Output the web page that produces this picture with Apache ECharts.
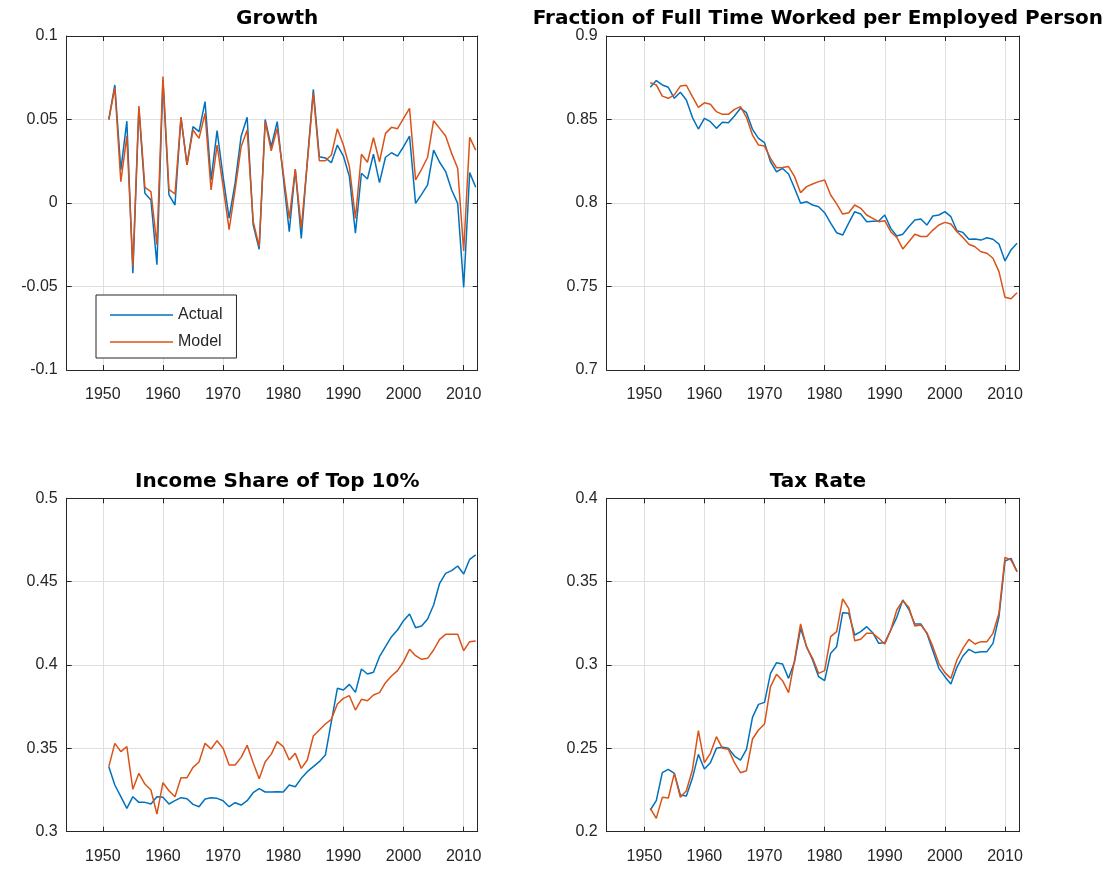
<!DOCTYPE html>
<html><head><meta charset="utf-8">
<script src="https://cdn.jsdelivr.net/npm/echarts@6/dist/echarts.min.js"></script>
<style>html,body{margin:0;padding:0;background:#fff}#c{width:1119px;height:871px}</style>
</head><body><div id="c"></div>
<script>
const years = [1951,1952,1953,1954,1955,1956,1957,1958,1959,1960,1961,1962,1963,1964,1965,1966,1967,1968,1969,1970,
1971,1972,1973,1974,1975,1976,1977,1978,1979,1980,1981,1982,1983,1984,1985,1986,1987,1988,1989,1990,
1991,1992,1993,1994,1995,1996,1997,1998,1999,2000,2001,2002,2003,2004,2005,2006,2007,2008,2009,2010,2011,2012];
const xTickValues = [1950,1960,1970,1980,1990,2000,2010];
const seriesNames = ['Actual','Model'];
const panelTitles = ['Growth','Fraction of Full Time Worked per Employed Person','Income Share of Top 10%','Tax Rate'];

const growthActual = [0.050,0.0707,0.0198,0.049,-0.042,0.057,0.0058,0.0018,-0.037,0.0737,0.0048,-0.0012,0.0513,0.0228,0.0457,0.0427,0.0607,0.0138,0.0433,0.0158,
-0.009,0.012,0.040,0.0513,-0.013,-0.0277,0.050,0.0337,0.0487,0.0158,-0.0172,0.0202,-0.0212,0.025,0.068,0.0277,0.027,0.0241,0.0347,0.0281,
0.0158,-0.018,0.0178,0.0144,0.0292,0.0122,0.0274,0.0301,0.0281,0.0337,0.0401,-0.0002,0.0052,0.0108,0.0317,0.0244,0.0188,0.0078,-0.0002,-0.0505,0.0182,0.0094];
const growthModel = [0.050,0.069,0.0128,0.040,-0.038,0.058,0.0094,0.0068,-0.025,0.0757,0.0082,0.0054,0.0513,0.0228,0.0437,0.0387,0.0537,0.0078,0.0347,0.010,
-0.016,0.008,0.0337,0.0437,-0.011,-0.026,0.0487,0.0313,0.0447,0.018,-0.0092,0.0202,-0.015,0.024,0.0657,0.0253,0.0253,0.0287,0.0445,0.0347,
0.0217,-0.0092,0.0292,0.0244,0.0391,0.0247,0.0417,0.0453,0.0445,0.0507,0.0567,0.0138,0.0202,0.0274,0.0493,0.0447,0.0401,0.0297,0.0208,-0.0287,0.0393,0.0317];

const fracActual = [0.8693,0.8733,0.8707,0.8693,0.8627,0.8663,0.8617,0.8513,0.8443,0.8507,0.8487,0.8447,0.8483,0.848,0.8521,0.8567,0.8541,0.8441,0.8387,0.8361,
0.8247,0.8187,0.8207,0.8174,0.8088,0.7998,0.8008,0.7988,0.7978,0.7942,0.7879,0.7822,0.7808,0.7879,0.7948,0.7934,0.7888,0.789,0.7892,0.7928,
0.7848,0.7802,0.7813,0.7858,0.7898,0.7904,0.7868,0.7922,0.7928,0.7948,0.7918,0.7834,0.7824,0.7783,0.7785,0.7778,0.7792,0.7783,0.7754,0.7653,0.7719,0.7759];
const fracModel = [0.872,0.8707,0.864,0.8627,0.8647,0.870,0.8705,0.8637,0.8573,0.860,0.8591,0.8547,0.8531,0.8531,0.8561,0.8577,0.8513,0.8407,0.8347,0.8341,
0.8267,0.8211,0.8213,0.8218,0.8158,0.8062,0.8098,0.8114,0.8128,0.8138,0.8048,0.7995,0.7934,0.7942,0.7988,0.7968,0.7928,0.7908,0.7888,0.7894,
0.7828,0.7794,0.7725,0.7768,0.7813,0.7799,0.7799,0.7838,0.7868,0.7884,0.7874,0.7828,0.7794,0.7753,0.7738,0.7708,0.7699,0.7669,0.7589,0.7435,0.7427,0.7463];

const incomeActual = [0.339,0.328,0.321,0.314,0.321,0.3176,0.3176,0.3166,0.321,0.3206,0.3166,0.3186,0.3204,0.3198,0.3164,0.315,0.3196,0.3204,0.32,0.3186,
0.315,0.3174,0.316,0.3186,0.3234,0.3258,0.3238,0.3238,0.324,0.3238,0.328,0.327,0.332,0.336,0.339,0.342,0.346,0.366,0.386,0.385,
0.3884,0.3836,0.3976,0.3946,0.3956,0.405,0.411,0.417,0.421,0.4266,0.4306,0.4224,0.4234,0.4276,0.436,0.449,0.455,0.4566,0.4594,0.4546,0.4634,0.466];
const incomeModel = [0.339,0.353,0.348,0.351,0.3254,0.335,0.3286,0.325,0.3106,0.3294,0.3246,0.321,0.3324,0.3324,0.3386,0.3418,0.353,0.3496,0.3546,0.35,
0.34,0.34,0.3446,0.3518,0.3414,0.3318,0.342,0.3464,0.354,0.351,0.343,0.347,0.338,0.343,0.3574,0.361,0.3646,0.3674,0.3766,0.38,
0.3816,0.373,0.3794,0.3786,0.382,0.3834,0.3894,0.3934,0.3966,0.402,0.4094,0.4056,0.4034,0.404,0.409,0.4154,0.4184,0.4184,0.4184,0.4086,0.414,0.4144];

const taxActual = [0.213,0.2186,0.2354,0.2374,0.235,0.222,0.2214,0.232,0.2464,0.2376,0.2414,0.25,0.2506,0.25,0.2454,0.243,0.2494,0.2686,0.2764,0.2776,
0.295,0.3014,0.3006,0.292,0.302,0.322,0.311,0.303,0.293,0.2906,0.307,0.311,0.3314,0.331,0.318,0.32,0.323,0.3194,0.313,0.3134,
0.321,0.3286,0.339,0.3334,0.3246,0.3246,0.319,0.3086,0.298,0.293,0.2886,0.2986,0.3054,0.3094,0.3074,0.308,0.308,0.313,0.329,0.3624,0.364,0.356];
const taxModel = [0.214,0.208,0.2206,0.2202,0.235,0.2206,0.2246,0.237,0.2606,0.2414,0.247,0.257,0.25,0.2494,0.2414,0.2354,0.2366,0.2556,0.261,0.2646,
0.287,0.2944,0.2906,0.2834,0.303,0.3246,0.3106,0.304,0.295,0.2966,0.317,0.32,0.3396,0.334,0.3146,0.3154,0.319,0.319,0.316,0.3126,
0.321,0.333,0.3386,0.3346,0.3234,0.324,0.3194,0.311,0.301,0.2954,0.292,0.303,0.31,0.3154,0.3126,0.314,0.314,0.319,0.331,0.3646,0.363,0.356];

const AX = '#262626';
const GRIDC = '#dfdfdf';
const FONT = '"Liberation Sans", Arial, Helvetica, sans-serif';
const TFONT = '"DejaVu Sans", sans-serif';
const BLUE = '#0072BD', ORANGE = '#D95319';

const panels = [
  {left:66.7, top:36, width:411, height:334, xmin:1944, xmax:2012.33, ymin:-0.1, ymax:0.1, a:growthActual, m:growthModel, tTop:4},
  {left:606.7, top:36, width:412.3, height:334, xmin:1943.75, xmax:2012.33, ymin:0.7, ymax:0.9, a:fracActual, m:fracModel, tTop:4},
  {left:66.7, top:498.3, width:411, height:333.4, xmin:1944, xmax:2012.33, ymin:0.3, ymax:0.5, a:incomeActual, m:incomeModel, tTop:467},
  {left:606.7, top:498.3, width:412.3, height:333.4, xmin:1943.75, xmax:2012.33, ymin:0.2, ymax:0.4, a:taxActual, m:taxModel, tTop:467}
];

const grid=[], xAxis=[], yAxis=[], series=[], title=[];
panels.forEach((p,i)=>{
  grid.push({left:p.left, top:p.top, width:p.width, height:p.height, show:false});
  title.push({text:panelTitles[i], left:p.left+p.width/2, top:p.tTop, textAlign:'center',
    textStyle:{fontFamily:TFONT, fontSize:20, fontWeight:'bold', color:'#000'}});
  xAxis.push({type:'value', gridIndex:i, min:p.xmin, max:p.xmax, position:'bottom',
    axisLine:{show:true, onZero:false, lineStyle:{color:AX, width:1}},
    axisTick:{show:true, inside:true, length:5, customValues:xTickValues, lineStyle:{color:AX}},
    axisLabel:{show:true, customValues:xTickValues, color:AX, fontSize:16, fontFamily:FONT, margin:17,
      formatter:(v)=>String(v)},
    splitLine:{show:true, lineStyle:{color:GRIDC, width:1}}});
  yAxis.push({type:'value', gridIndex:i, min:p.ymin, max:p.ymax, interval:0.05, position:'left',
    axisLine:{show:true, onZero:false, lineStyle:{color:AX, width:1}},
    axisTick:{show:true, inside:true, length:5, lineStyle:{color:AX}},
    axisLabel:{show:true, color:AX, fontSize:16, fontFamily:FONT, margin:9},
    splitLine:{show:true, lineStyle:{color:GRIDC, width:1}}});
});
panels.forEach((p,i)=>{
  xAxis.push({type:'value', gridIndex:i, min:p.xmin, max:p.xmax, position:'top',
    axisLine:{show:true, onZero:false, lineStyle:{color:AX, width:1}},
    axisTick:{show:true, inside:true, length:5, customValues:xTickValues, lineStyle:{color:AX}},
    axisLabel:{show:false, customValues:xTickValues}, splitLine:{show:false}});
  yAxis.push({type:'value', gridIndex:i, min:p.ymin, max:p.ymax, interval:0.05, position:'right',
    axisLine:{show:true, onZero:false, lineStyle:{color:AX, width:1}},
    axisTick:{show:true, inside:true, length:5, lineStyle:{color:AX}},
    axisLabel:{show:false}, splitLine:{show:false}});
  [[p.a, seriesNames[0], BLUE],[p.m, seriesNames[1], ORANGE]].forEach(([arr,name,col])=>{
    series.push({type:'line', name:name, xAxisIndex:i, yAxisIndex:i, symbol:'none', showSymbol:false,
      lineStyle:{color:col, width:1.5}, itemStyle:{color:col}, data:years.map((y,k)=>[y, arr[k]]), z:3});
  });
});

const chart = echarts.init(document.getElementById('c'), null, {renderer:'canvas'});
chart.setOption({
  animation:false, backgroundColor:'#fff',
  title, grid, xAxis, yAxis, series,
  legend:{data:seriesNames, left:96, top:295, orient:'vertical', backgroundColor:'#fff',
    borderColor:AX, borderWidth:1, borderRadius:0, padding:[10,14,6,14], itemWidth:63, itemHeight:1.6, itemGap:7,
    icon:'rect', selectedMode:false, textStyle:{fontSize:16, color:AX, fontFamily:FONT, lineHeight:20}, z:10}
});
</script></body></html>
